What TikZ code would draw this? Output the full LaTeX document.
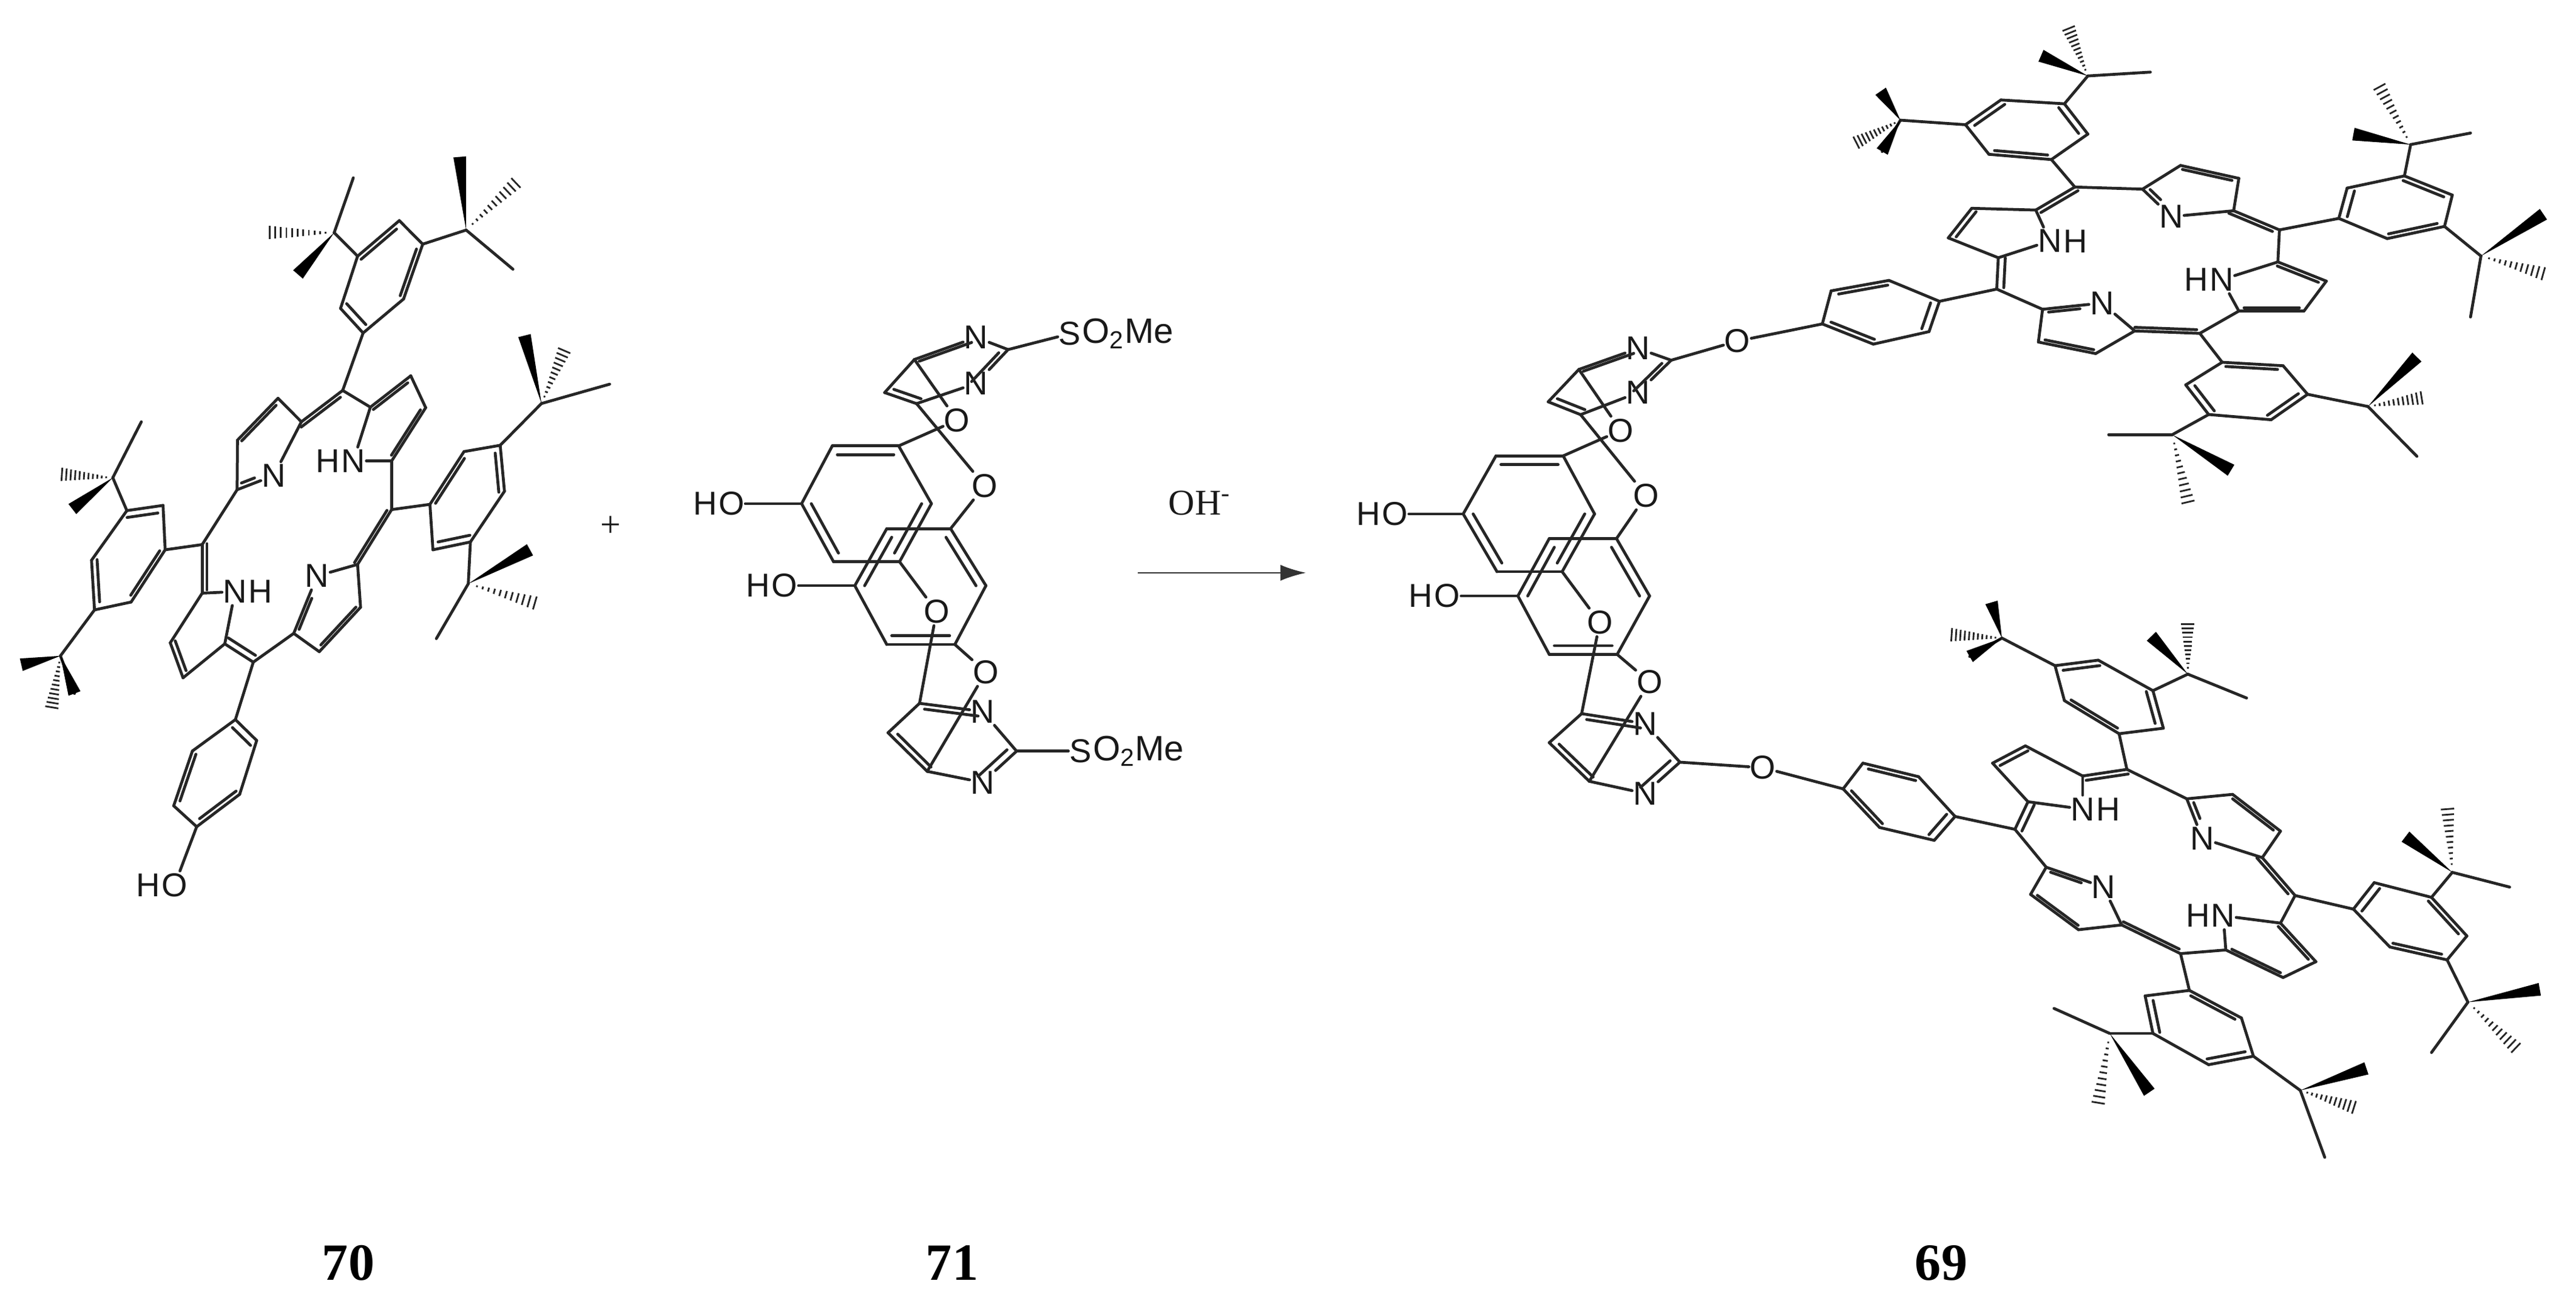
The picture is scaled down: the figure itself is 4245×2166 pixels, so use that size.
\documentclass[tikz,border=0pt]{standalone}
\usepackage{fontspec}
\setmainfont{Liberation Sans}
\newfontfamily\serifface{Liberation Serif}
\usetikzlibrary{calc, arrows.meta}

\newcommand{\atoms}[2]{\foreach \n/\xx/\yy in {#2}{\coordinate (#1\n) at (\xx,\yy);}}
\newcommand{\dbl}[4][.15]{\draw[bond] (#2) -- (#3); \draw[bond] ($(#2)!#1!(#4)$) -- ($(#3)!#1!(#4)$);}
\newcommand{\dbln}[3]{\draw[bond] (#1) -- (#2); \draw[bond, shorten >=9pt] ($(#1)!.15!(#3)$) -- ($(#2)!.15!(#3)$);}
\newcommand{\wedgebond}[2]{\fill[wedge] (#1) -- ($(#2)!3pt!90:(#1)$) -- ($(#2)!3pt!-90:(#1)$) -- cycle;}
\newcommand{\hashbond}[2]{\foreach \t in {.12,.2,...,1}{\pgfmathsetmacro\wd{\t*3.4}
  \draw[hash] ($(#1)!\t!(#2)!\wd pt!90:(#1)$) -- ($(#1)!\t!(#2)!\wd pt!-90:(#1)$);}}
% ring 1..6, double bonds 1=2, 3=4, 5=6
\newcommand{\ringbonds}[2]{
  \coordinate (#1o) at (barycentric cs:#11=1,#12=1,#13=1,#14=1,#15=1,#16=1);
  \draw[bond] (#2) -- (#11);
  \foreach \p/\q in {2/3,4/5,6/1}{\draw[bond] (#1\p) -- (#1\q);}
  \foreach \p/\q in {1/2,3/4,5/6}{\dbl{#1\p}{#1\q}{#1o}}}
\newcommand{\tbutyl}[2]{
  \draw[bond] (#1) -- (#2); \draw[bond] (#2) -- (#2p);
  \wedgebond{#2}{#2w} \hashbond{#2}{#2h}}
\newcommand{\arylbonds}[2]{\ringbonds{#1}{#2} \tbutyl{#13}{#1q} \tbutyl{#15}{#1s}}
\newcommand{\macrocycle}[1]{
  \coordinate (#1o) at (barycentric cs:#1m1=1,#1m2=1,#1m3=1,#1m4=1);
  \coordinate (#1r1) at (barycentric cs:#1c1=1,#1d1=1,#1d2=1,#1c2=1,#1n1=1);
  \coordinate (#1r2) at (barycentric cs:#1c3=1,#1d3=1,#1d4=1,#1c4=1,#1n2=1);
  \coordinate (#1r3) at (barycentric cs:#1c5=1,#1d5=1,#1d6=1,#1c6=1,#1n3=1);
  \coordinate (#1r4) at (barycentric cs:#1c7=1,#1d8=1,#1d7=1,#1c8=1,#1n4=1);
  \foreach \p/\q in {m1/c1,d1/d2,c2/n1,c1/n1,c2/m2,c3/n2,c3/d3,d4/c4,c4/m3,c5/n3,c5/d5,d6/c6,c6/n3,m4/c7,c7/d8,d7/c8,c8/n4}
    {\draw[bond] (#1\p) -- (#1\q);}
  \foreach \p/\q/\s in {c1/d1/r1,d2/c2/r1,d3/d4/r2,d5/d6/r3,d8/d7/r4}{\dbl{#1\p}{#1\q}{#1\s}}
  \dbln{#1c4}{#1n2}{#1r2} \dbln{#1c7}{#1n4}{#1r4}
  \foreach \p/\q in {m2/c3,m3/c5,c6/m4,c8/m1}{\dbl[.05]{#1\p}{#1\q}{#1o}}}
\newcommand{\corebonds}[1]{
  \coordinate (#1u) at (barycentric cs:#1c=1,#1n1=1,#1g=1,#1n2=1,#1e=1,#1f=1);
  \coordinate (#1v) at (barycentric cs:#1kc=1,#1kn1=1,#1kg=1,#1kn2=1,#1ke=1,#1kf=1);
  \foreach \p/\q in {n1/g,n2/e,f/c,kn1/kg,kn2/ke,kf/kc,c/o1,e/o2,r1/o1,l1/o2,r5/o3,kc/o3,ke/o4,l3/o4,g/s1,kg/s2,r3/h1,l5/h2}
    {\draw[bond] (#1\p) -- (#1\q);}
  \dbl{#1c}{#1n1}{#1u} \dbl{#1g}{#1n2}{#1u} \dbl{#1e}{#1f}{#1u}
  \dbl{#1kc}{#1kn1}{#1v} \dbl{#1kg}{#1kn2}{#1v} \dbl{#1ke}{#1kf}{#1v}
  \ringbonds{#1r}{#1r1}
  \ringbonds{#1l}{#1l1}}

\begin{document}
\begin{tikzpicture}[x=0.01cm, y=-0.01cm]
\tikzset{bond/.style = {line width=1.35pt, black!85, line cap=round, line join=round}}
\tikzset{wedge/.style = {fill=black}}
\tikzset{hash/.style = {line width=.8pt, black!85}}
\tikzset{atom/.style = {inner xsep=.3pt, inner ysep=1pt, black!90, font=\fontsize{15.5}{18}\selectfont}}
\tikzset{atomtail/.style = {inner sep=0pt, black!90, font=\fontsize{15.5}{18}\selectfont}}
\tikzset{hleft/.style = {label={[atomtail]left:H}}}
\tikzset{hright/.style = {label={[atomtail]right:H}}}
\tikzset{sotail/.style = {label={[atomtail, font=\fontsize{16.5}{18}\selectfont]right:O\textsubscript{2}Me}}}
\tikzset{caption/.style = {inner sep=0pt, font=\serifface\bfseries\fontsize{24.5}{28}\selectfont}}
\tikzset{plain/.style = {inner sep=0pt, black!90, font=\serifface\fontsize{17}{20}\selectfont}}
\useasboundingbox (0,0) rectangle (4245,2166);

%compound 70
\begin{scope}[shift={(0,200)}, xscale=.7015, yscale=.861]
\atoms{A}{m1/805/515,m2/920/743,m3/595/1035,m4/475/810,
  c1/870/547,d1/965/487,d2/1000/548,c2/920/650,
  c3/840/848,d3/847/930,d4/750/1015,c4/690/980,
  c5/528/1000,d5/430/1065,d6/400/998,c6/475/903,
  c7/557/705,d8/558/610,d7/653/530,c8/708/575}
\node[atom, hleft] (An1) at (830,650) {N};
\node[atom] (An2) at (745,870) {N};
\node[atom, hright] (An3) at (552,900) {N};
\node[atom] (An4) at (643,678) {N};
\atoms{Aw}{1/853/405,2/800/358,3/840/258,4/938/190,5/993/235,6/948/340,
  q/785/213,qw/700/293,qh/620/213,qp/830/108,s/1095/208,sw/1080/68,sh/1222/110,sp/1205/283}
\atoms{Ax}{1/1010/733,2/1090/632,3/1175/620,4/1185/708,5/1105/805,6/1017/820,
  q/1272/540,qw/1232/410,qh/1330/430,qp/1432/503,s/1100/885,sw/1245/820,sh/1270/925,sp/1025/990}
\atoms{Ay}{1/388/820,2/308/920,3/222/935,4/215/840,5/298/745,6/383/735,
  q/142/1023,qw/50/1040,qh/120/1130,qp/175/1095,s/265/682,sw/170/742,sh/135/675,sp/332/575}
\atoms{Az}{1/553/1145,2/603/1185,3/563/1288,4/462/1350,5/408/1310,6/452/1205}
\node[atom, hleft] (Ah) at (410,1462) {O};
\node (plus) [plain] at (1435,775) {+};
\end{scope}

%compound 71
\begin{scope}[shift={(1100,450)}, xscale=.7015, yscale=.606]
\atoms{P}{c/580/235,g/800/208,e/585/355,f/510/325,
  kc/592/1170,kg/820/1300,ke/610/1355,kf/518/1250}
\atoms{Pr}{1/543/470,2/387/470,3/315/627,4/390/785,5/545/785,6/620/627}
\atoms{Pl}{1/665/695,2/748/850,3/675/1010,4/515/1010,5/440/850,6/515/695}
\node[atom] (Pn1) at (725,175) {N};
\node[atom] (Pn2) at (725,300) {N};
\node[atom] (Pkn1) at (740,1192) {N};
\node[atom] (Pkn2) at (740,1385) {N};
\node[atom] (Po1) at (680,400) {O};
\node[atom] (Po2) at (745,578) {O};
\node[atom] (Po3) at (632,920) {O};
\node[atom] (Po4) at (748,1085) {O};
\node[atom, hleft] (Ph1) at (150,627) {O};
\node[atom, hleft] (Ph2) at (275,850) {O};
\node[atom, sotail] (Ps1) at (945,165) {S};
\node[atom, sotail] (Ps2) at (970,1300) {S};
\node[plain] (base) at (1250,625) {OH\textsuperscript{-}};
\coordinate (arrowa) at (1105,815);
\coordinate (arrowb) at (1500,815);
\end{scope}

%compound 69, centre
\begin{scope}[shift={(2200,450)}, xscale=.574, yscale=.606]
\atoms{Q}{c/700/262,g/965/237,e/705/385,f/612/350,
  kc/708/1198,kg/990/1330,ke/730/1382,kf/615/1277}
\atoms{Qr}{1/655/497,2/462/497,3/368/655,4/465/812,5/652/812,6/745/655}
\atoms{Ql}{1/808/722,2/903/878,3/810/1037,4/615/1037,5/525/878,6/615/722}
\node[atom] (Qn1) at (870,205) {N};
\node[atom] (Qn2) at (870,325) {N};
\node[atom] (Qkn1) at (890,1225) {N};
\node[atom] (Qkn2) at (890,1415) {N};
\node[atom] (Qo1) at (820,428) {O};
\node[atom] (Qo2) at (893,605) {O};
\node[atom] (Qo3) at (760,950) {O};
\node[atom] (Qo4) at (903,1112) {O};
\node[atom, hleft] (Qh1) at (172,655) {O};
\node[atom, hleft] (Qh2) at (322,878) {O};
\node[atom] (Qs1) at (1155,185) {O};
\node[atom] (Qs2) at (1228,1345) {O};
\end{scope}

%compound 69, upper porphyrin
\begin{scope}[shift={(2900,0)}, xscale=.858, yscale=.574]
\atoms{T}{m3/605/537,c5/530/603,d5/407/598,d6/362/683,c6/458/740,
  m4/455/830,c7/543/888,d8/535/982,d7/645/1015,c8/720/950,
  m1/845/957,c1/920/893,d1/1045/893,d2/1088/807,c2/995/752,
  m2/998/660,c3/910/605,d3/920/512,d4/808/475,c4/735/543}
\node[atom, hleft] (Tn1) at (887,803) {N};
\node[atom] (Tn2) at (790,622) {N};
\node[atom, hright] (Tn3) at (557,692) {N};
\node[atom] (Tn4) at (657,870) {N};
\atoms{Tw}{1/560/458,2/440/443,3/395/358,4/463/287,5/585/298,6/630/385,
  q/270/345,qw/232/262,qh/178/415,qp/235/435,s/630/218,sw/540/160,sh/590/70,sp/750/207}
\atoms{Tx}{1/1112/627,2/1128/540,3/1238/505,4/1330/560,5/1315/650,6/1205/685,
  q/1250/415,qw/1140/385,qh/1185/235,qp/1365/382,s/1385/735,sw/1505/615,sh/1515/790,sp/1365/910}
\atoms{Ty}{1/888/1040,2/1005/1050,3/1052/1132,4/982/1205,5/862/1190,6/818/1105,
  q/1168/1167,qw/1262/1025,qh/1280/1140,qp/1262/1310,s/792/1248,sw/905/1350,sh/825/1458,sp/670/1248}
\atoms{Tz}{1/345/865,2/325/952,3/218/988,4/120/930,5/137/835,6/248/805}
\end{scope}

%compound 69, lower porphyrin
\begin{scope}[shift={(2900,1000)}, xscale=.858, yscale=.606]
\atoms{U}{m3/705/442,c5/620/460,d5/510/378,d6/447/425,c6/515/530,
  m4/490/605,c7/550/708,d8/520/782,d7/612/878,c8/695/865,
  m1/808/943,c1/895/933,d1/1005/1008,d2/1068/965,c2/1000/860,
  m2/1028/785,c3/965/682,d3/1000/610,d4/908/510,c4/820/522}
\node[atom, hleft] (Un1) at (890,840) {N};
\node[atom] (Un2) at (850,630) {N};
\node[atom, hright] (Un3) at (620,550) {N};
\node[atom] (Un4) at (660,762) {N};
\atoms{Uw}{1/690/345,2/585/255,3/567/160,4/650/145,5/755/228,6/775/330,
  q/465/85,qw/445/-12,qh/360/75,qp/403/135,s/822/183,sw/752/80,sh/822/35,sp/935/248}
\atoms{Ux}{1/1140/822,2/1180/750,3/1290/790,4/1358/895,5/1320/960,6/1210/925,
  q/1330/722,qw/1240/625,qh/1320/535,qp/1440/762,s/1360/1075,sw/1498/1040,sh/1460/1210,sp/1290/1212}
\atoms{Uy}{1/825/1043,2/925/1118,3/948/1222,4/862/1245,5/755/1160,6/740/1058,
  q/1038/1315,qw/1165/1255,qh/1150/1365,qp/1085/1497,s/672/1160,sw/748/1320,sh/648/1365,sp/565/1092}
\atoms{Uz}{1/375/570,2/335/635,3/230/600,4/160/495,5/198/425,6/305/462}
\end{scope}

%bonds
\macrocycle{A}
\arylbonds{Aw}{Am1} \arylbonds{Ax}{Am2} \arylbonds{Ay}{Am4}
\wedgebond{Ayq}{Ayqp}
\ringbonds{Az}{Am3}
\draw[bond] (Az4) -- (Ah);

\corebonds{P}
\corebonds{Q}

\macrocycle{T}
\arylbonds{Tw}{Tm3} \arylbonds{Tx}{Tm2} \arylbonds{Ty}{Tm1}
\wedgebond{Twq}{Twqp}
\ringbonds{Tz}{Tm4}
\draw[bond] (Tz4) -- (Qs1);

\macrocycle{U}
\arylbonds{Uw}{Um3} \arylbonds{Ux}{Um2} \arylbonds{Uy}{Um1}
\wedgebond{Uwq}{Uwqp}
\ringbonds{Uz}{Um4}
\draw[bond] (Uz4) -- (Qs2);

%arrow and captions
\draw[line width=.8pt, black!80, -{Latex[length=12pt, width=7.5pt]}] (arrowa) -- (arrowb);
\node[caption] (c70) at (574,2081) {70};
\node[caption] (c71) at (1569,2081) {71};
\node[caption] (c69) at (3199,2081) {69};

\end{tikzpicture}
\end{document}
